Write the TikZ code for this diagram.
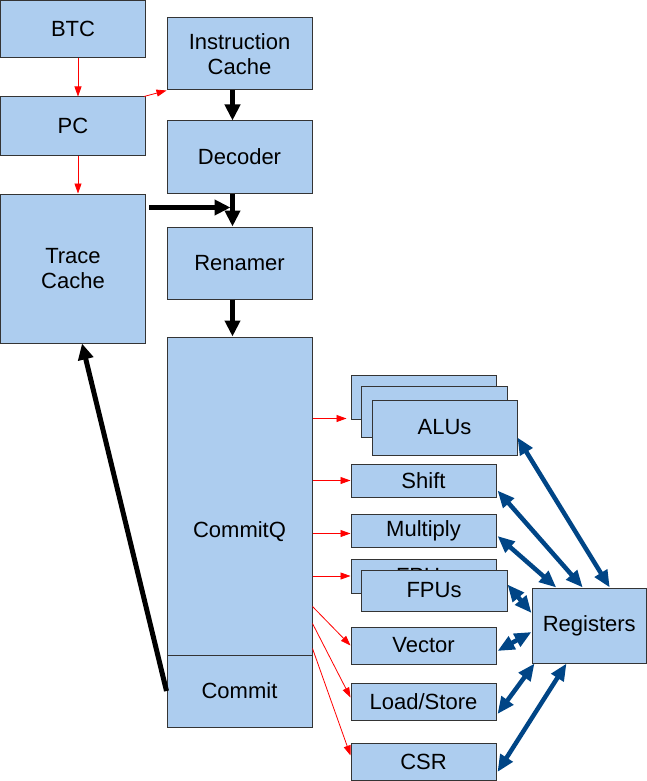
\documentclass[tikz,border=0pt]{standalone}
\usepackage{fontspec}
\setmainfont{Liberation Sans}
\usetikzlibrary{arrows.meta,calc}
\definecolor{boxfill}{RGB}{173,205,239}
\definecolor{boxline}{RGB}{52,52,52}
\definecolor{regblue}{RGB}{0,69,134}
\tikzset{
 unit/.style={draw=boxline, fill=boxfill, line width=1pt, inner sep=0pt, align=center, font=\fontsize{22}{25}\selectfont},
 redarr/.style={draw=red, line width=0.8pt, -{Triangle[length=10pt,width=7pt]}},
 blackarr/.style={draw=black, line width=5pt, -{Triangle[length=16pt,width=15pt]}},
 bluearr/.style={draw=regblue, line width=4.5pt, {Triangle[length=17pt,width=14pt]}-{Triangle[length=17pt,width=14pt]}},
}
\newcommand\ubox[6]{\node[unit, minimum width={#4pt-#2pt}, minimum height={#5pt-#3pt}] (#1) at ({(#2+#4)/2},{(#3+#5)/2}) {#6};}
\begin{document}
\begin{tikzpicture}[x=1pt,y=-1pt]
\useasboundingbox (0,0) rectangle (647,781);
% left column
\ubox{BTC}{0.5}{0.5}{145.5}{58}{BTC}
\ubox{PC}{0.5}{97}{145.5}{155.5}{PC}
\ubox{TC}{0.5}{194}{145.5}{343}{Trace\\Cache}
% middle column
\ubox{IC}{167}{18}{312}{90}{Instruction\\Cache}
\ubox{Dec}{167}{121}{312}{193}{Decoder}
\ubox{Ren}{167}{227}{312}{299}{Renamer}
\ubox{CQ}{167}{337}{312}{727}{CommitQ}
\ubox{Commit}{167}{655}{312}{727}{Commit}
% units
\ubox{ALUa}{351}{375}{496}{419}{}
\ubox{ALUb}{361}{386}{507}{437}{}
\ubox{ALUc}{372}{400}{517}{455}{ALUs}
\ubox{Shift}{351}{464}{496}{497}{Shift}
\ubox{Mult}{351}{514}{496}{547}{Multiply}
\ubox{FPUa}{351}{559}{496}{593}{FPUs}
\ubox{FPUb}{361}{570}{507}{611}{FPUs}
\ubox{Vec}{351}{627}{496}{664}{Vector}
\ubox{LS}{351}{683}{496}{720}{Load/Store}
\ubox{CSR}{351}{743}{496}{780}{CSR}
\ubox{Reg}{532}{588}{646.5}{663}{Registers}
% front-end arrows
\draw[redarr] ($(BTC.south)+(5,0)$) -- ($(PC.north)+(5,0)$);
\draw[redarr] ($(PC.south)+(5,0)$) -- ($(TC.north)+(5,0)$);
\draw[redarr] ($(PC.north east)+(-2,0)$) -- (IC.south west);
\draw[blackarr] ($(IC.south)+(-7,0)$) -- ($(Dec.north)+(-7,0)$);
\coordinate (j) at ($(Dec.south)+(-7,14)$);
\draw[blackarr] ($(Dec.south)+(-7,0)$) -- ($(Ren.north)+(-7,0)$);
\draw[blackarr] ($(TC.east |- j)+(3,0)$) -- ($(j)+(-2,0)$);
\draw[blackarr] ($(Ren.south)+(-7,0)$) -- ($(CQ.north)+(-7,0)$);
\draw[blackarr] (Commit.west) -- ($(TC.south)+(9,0)$);
% issue arrows
\coordinate (aluin) at ($(ALUa.south west)+(-4,-1)$);
\draw[redarr] (CQ.east |- aluin) -- (aluin);
\draw[redarr] (CQ.east |- Shift.west) -- (Shift.west);
\draw[redarr] ($(CQ.east |- Mult.west)+(0,3)$) -- ($(Mult.west)+(0,3)$);
\draw[redarr] (CQ.east |- FPUa.west) -- (FPUa.west);
\draw[redarr] ($(CQ.east |- Vec.west)+(0,-39)$) -- (Vec.west);
\draw[redarr] ($(CQ.east |- LS.west)+(0,-78)$) -- ($(LS.west)+(0,-4)$);
\draw[redarr] ($(CQ.east |- CSR.west)+(0,-113)$) -- ($(CSR.west)+(0,-6)$);
% register arrows
\draw[bluearr] ($(ALUc.south east)+(0,-18)$) -- ($(Reg.north)+(20.5,0)$);
\draw[bluearr] ($(Shift.south east)+(1,-7)$) -- ($(Reg.north)+(-6.5,0)$);
\draw[bluearr] ($(Mult.east)+(1,5.5)$) -- ($(Reg.north)+(-33,0)$);
\draw[bluearr] ($(FPUb.north east)+(0,15)$) -- ($(Reg.west)+(0,-12.5)$);
\draw[bluearr] ($(Vec.east)+(1,5.5)$) -- ($(Reg.west)+(0,6.5)$);
\draw[bluearr] ($(LS.east)+(1,12.5)$) -- ($(Reg.south west)+(3,0)$);
\draw[bluearr] ($(CSR.east)+(1,10.5)$) -- ($(Reg.south west)+(35,0)$);
\end{tikzpicture}
\end{document}
